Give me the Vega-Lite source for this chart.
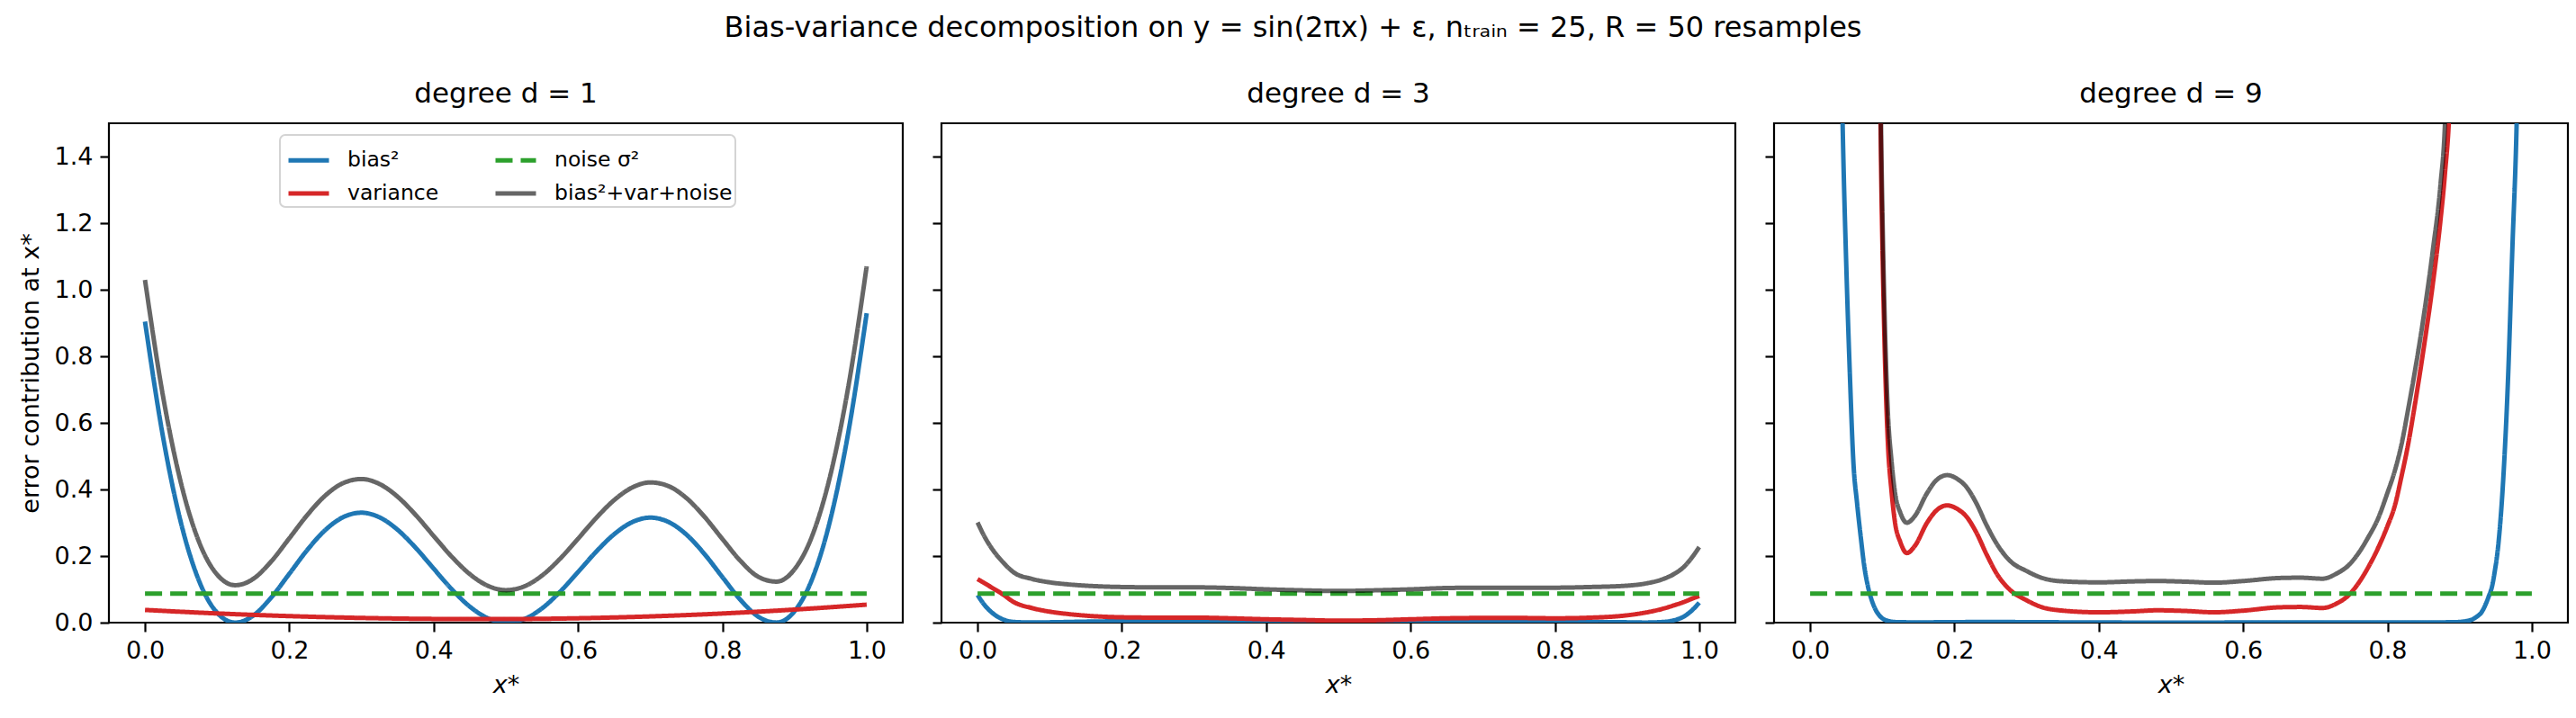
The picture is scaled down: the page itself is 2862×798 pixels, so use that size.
{
  "$schema": "https://vega.github.io/schema/vega-lite/v6.json",
  "background": "white",
  "padding": {"left": 18, "top": 14, "right": 0, "bottom": 0},
  "title": {
    "text": "Bias-variance decomposition on y = sin(2πx) + ε, nₜᵣₐᵢₙ = 25, R = 50 resamples",
    "fontSize": 32, "anchor": "middle", "offset": 40
  },
  "datasets": {
    "curves": [
      {"d":1,"s":"n","x":0,"v":0.087},{"d":1,"s":"n","x":1,"v":0.087},
      {"d":3,"s":"n","x":0,"v":0.087},{"d":3,"s":"n","x":1,"v":0.087},
      {"d":9,"s":"n","x":0,"v":0.087},{"d":9,"s":"n","x":1,"v":0.087},

      {"d":1,"s":"b","x":0,"v":0.9044},{"d":1,"s":"b","x":0.025,"v":0.5576},{"d":1,"s":"b","x":0.05,"v":0.2984},{"d":1,"s":"b","x":0.075,"v":0.1249},
      {"d":1,"s":"b","x":0.1,"v":0.0295},{"d":1,"s":"b","x":0.125,"v":0.0},{"d":1,"s":"b","x":0.15,"v":0.0211},{"d":1,"s":"b","x":0.175,"v":0.0757},
      {"d":1,"s":"b","x":0.2,"v":0.1468},{"d":1,"s":"b","x":0.225,"v":0.2186},{"d":1,"s":"b","x":0.25,"v":0.2785},{"d":1,"s":"b","x":0.275,"v":0.3173},
      {"d":1,"s":"b","x":0.3,"v":0.3302},{"d":1,"s":"b","x":0.325,"v":0.3163},{"d":1,"s":"b","x":0.35,"v":0.279},{"d":1,"s":"b","x":0.375,"v":0.2249},
      {"d":1,"s":"b","x":0.4,"v":0.1622},{"d":1,"s":"b","x":0.425,"v":0.1004},{"d":1,"s":"b","x":0.45,"v":0.0483},{"d":1,"s":"b","x":0.475,"v":0.0132},
      {"d":1,"s":"b","x":0.5,"v":0.0},{"d":1,"s":"b","x":0.525,"v":0.0104},{"d":1,"s":"b","x":0.55,"v":0.0427},{"d":1,"s":"b","x":0.575,"v":0.0924},
      {"d":1,"s":"b","x":0.6,"v":0.1519},{"d":1,"s":"b","x":0.625,"v":0.2127},{"d":1,"s":"b","x":0.65,"v":0.2654},{"d":1,"s":"b","x":0.675,"v":0.3018},
      {"d":1,"s":"b","x":0.7,"v":0.3154},{"d":1,"s":"b","x":0.725,"v":0.3028},{"d":1,"s":"b","x":0.75,"v":0.2649},{"d":1,"s":"b","x":0.775,"v":0.2067},
      {"d":1,"s":"b","x":0.8,"v":0.137},{"d":1,"s":"b","x":0.825,"v":0.0687},{"d":1,"s":"b","x":0.85,"v":0.0175},{"d":1,"s":"b","x":0.875,"v":0.0003},
      {"d":1,"s":"b","x":0.9,"v":0.0341},{"d":1,"s":"b","x":0.925,"v":0.1342},{"d":1,"s":"b","x":0.95,"v":0.3128},{"d":1,"s":"b","x":0.975,"v":0.5771},
      {"d":1,"s":"b","x":1.0,"v":0.9293},

      {"d":1,"s":"v","x":0,"v":0.0381},{"d":1,"s":"v","x":0.1,"v":0.0276},{"d":1,"s":"v","x":0.2,"v":0.0196},{"d":1,"s":"v","x":0.3,"v":0.0141},
      {"d":1,"s":"v","x":0.4,"v":0.0111},{"d":1,"s":"v","x":0.475,"v":0.0105},{"d":1,"s":"v","x":0.6,"v":0.0131},{"d":1,"s":"v","x":0.7,"v":0.0187},
      {"d":1,"s":"v","x":0.8,"v":0.0274},{"d":1,"s":"v","x":0.9,"v":0.0392},{"d":1,"s":"v","x":1.0,"v":0.054},

      {"d":1,"s":"t","x":0,"v":1.0295},{"d":1,"s":"t","x":0.025,"v":0.6799},{"d":1,"s":"t","x":0.05,"v":0.418},{"d":1,"s":"t","x":0.075,"v":0.2419},
      {"d":1,"s":"t","x":0.1,"v":0.1441},{"d":1,"s":"t","x":0.125,"v":0.1124},{"d":1,"s":"t","x":0.15,"v":0.1314},{"d":1,"s":"t","x":0.175,"v":0.1841},
      {"d":1,"s":"t","x":0.2,"v":0.2534},{"d":1,"s":"t","x":0.225,"v":0.3236},{"d":1,"s":"t","x":0.25,"v":0.3821},{"d":1,"s":"t","x":0.275,"v":0.4196},
      {"d":1,"s":"t","x":0.3,"v":0.4313},{"d":1,"s":"t","x":0.325,"v":0.4164},{"d":1,"s":"t","x":0.35,"v":0.3783},{"d":1,"s":"t","x":0.375,"v":0.3235},
      {"d":1,"s":"t","x":0.4,"v":0.2603},{"d":1,"s":"t","x":0.425,"v":0.1982},{"d":1,"s":"t","x":0.45,"v":0.1458},{"d":1,"s":"t","x":0.475,"v":0.1107},
      {"d":1,"s":"t","x":0.5,"v":0.0976},{"d":1,"s":"t","x":0.525,"v":0.1084},{"d":1,"s":"t","x":0.55,"v":0.1412},{"d":1,"s":"t","x":0.575,"v":0.1916},
      {"d":1,"s":"t","x":0.6,"v":0.252},{"d":1,"s":"t","x":0.625,"v":0.3139},{"d":1,"s":"t","x":0.65,"v":0.3679},{"d":1,"s":"t","x":0.675,"v":0.4058},
      {"d":1,"s":"t","x":0.7,"v":0.4211},{"d":1,"s":"t","x":0.725,"v":0.4104},{"d":1,"s":"t","x":0.75,"v":0.3746},{"d":1,"s":"t","x":0.775,"v":0.3186},
      {"d":1,"s":"t","x":0.8,"v":0.2514},{"d":1,"s":"t","x":0.825,"v":0.1857},{"d":1,"s":"t","x":0.85,"v":0.1374},{"d":1,"s":"t","x":0.875,"v":0.1232},
      {"d":1,"s":"t","x":0.9,"v":0.1603},{"d":1,"s":"t","x":0.925,"v":0.2638},{"d":1,"s":"t","x":0.95,"v":0.446},{"d":1,"s":"t","x":0.975,"v":0.7141},
      {"d":1,"s":"t","x":1.0,"v":1.0703},

      {"d":3,"s":"b","x":0,"v":0.083},{"d":3,"s":"b","x":0.01,"v":0.052},{"d":3,"s":"b","x":0.02,"v":0.03},{"d":3,"s":"b","x":0.035,"v":0.01},
      {"d":3,"s":"b","x":0.05,"v":0.002},{"d":3,"s":"b","x":0.075,"v":0.0005},{"d":3,"s":"b","x":0.1,"v":0.001},{"d":3,"s":"b","x":0.15,"v":0.003},
      {"d":3,"s":"b","x":0.2,"v":0.004},{"d":3,"s":"b","x":0.25,"v":0.004},{"d":3,"s":"b","x":0.3,"v":0.003},{"d":3,"s":"b","x":0.35,"v":0.002},
      {"d":3,"s":"b","x":0.4,"v":0.001},{"d":3,"s":"b","x":0.45,"v":0.0003},{"d":3,"s":"b","x":0.5,"v":0.0},{"d":3,"s":"b","x":0.55,"v":0.0003},
      {"d":3,"s":"b","x":0.6,"v":0.001},{"d":3,"s":"b","x":0.65,"v":0.002},{"d":3,"s":"b","x":0.7,"v":0.003},{"d":3,"s":"b","x":0.75,"v":0.003},
      {"d":3,"s":"b","x":0.8,"v":0.003},{"d":3,"s":"b","x":0.85,"v":0.002},{"d":3,"s":"b","x":0.9,"v":0.001},{"d":3,"s":"b","x":0.925,"v":0.0003},
      {"d":3,"s":"b","x":0.95,"v":0.002},{"d":3,"s":"b","x":0.965,"v":0.007},{"d":3,"s":"b","x":0.98,"v":0.02},{"d":3,"s":"b","x":0.99,"v":0.037},
      {"d":3,"s":"b","x":1.0,"v":0.06},

      {"d":3,"s":"v","x":0,"v":0.131},{"d":3,"s":"v","x":0.01,"v":0.118},{"d":3,"s":"v","x":0.02,"v":0.105},{"d":3,"s":"v","x":0.035,"v":0.085},
      {"d":3,"s":"v","x":0.05,"v":0.062},{"d":3,"s":"v","x":0.075,"v":0.044},{"d":3,"s":"v","x":0.1,"v":0.033},{"d":3,"s":"v","x":0.125,"v":0.026},
      {"d":3,"s":"v","x":0.15,"v":0.021},{"d":3,"s":"v","x":0.2,"v":0.016},{"d":3,"s":"v","x":0.25,"v":0.015},{"d":3,"s":"v","x":0.3,"v":0.015},
      {"d":3,"s":"v","x":0.35,"v":0.013},{"d":3,"s":"v","x":0.4,"v":0.01},{"d":3,"s":"v","x":0.45,"v":0.008},{"d":3,"s":"v","x":0.5,"v":0.006},
      {"d":3,"s":"v","x":0.55,"v":0.007},{"d":3,"s":"v","x":0.6,"v":0.01},{"d":3,"s":"v","x":0.65,"v":0.013},{"d":3,"s":"v","x":0.7,"v":0.014},
      {"d":3,"s":"v","x":0.75,"v":0.014},{"d":3,"s":"v","x":0.8,"v":0.013},{"d":3,"s":"v","x":0.85,"v":0.015},{"d":3,"s":"v","x":0.9,"v":0.022},
      {"d":3,"s":"v","x":0.925,"v":0.03},{"d":3,"s":"v","x":0.95,"v":0.042},{"d":3,"s":"v","x":0.965,"v":0.052},{"d":3,"s":"v","x":0.98,"v":0.063},
      {"d":3,"s":"v","x":0.99,"v":0.072},{"d":3,"s":"v","x":1.0,"v":0.08},

      {"d":3,"s":"t","x":0,"v":0.301},{"d":3,"s":"t","x":0.01,"v":0.257},{"d":3,"s":"t","x":0.02,"v":0.222},{"d":3,"s":"t","x":0.035,"v":0.182},
      {"d":3,"s":"t","x":0.05,"v":0.151},{"d":3,"s":"t","x":0.075,"v":0.1315},{"d":3,"s":"t","x":0.1,"v":0.121},{"d":3,"s":"t","x":0.125,"v":0.115},
      {"d":3,"s":"t","x":0.15,"v":0.111},{"d":3,"s":"t","x":0.2,"v":0.107},{"d":3,"s":"t","x":0.25,"v":0.106},{"d":3,"s":"t","x":0.3,"v":0.106},
      {"d":3,"s":"t","x":0.35,"v":0.104},{"d":3,"s":"t","x":0.4,"v":0.1},{"d":3,"s":"t","x":0.45,"v":0.097},{"d":3,"s":"t","x":0.5,"v":0.095},
      {"d":3,"s":"t","x":0.55,"v":0.097},{"d":3,"s":"t","x":0.6,"v":0.1},{"d":3,"s":"t","x":0.65,"v":0.104},{"d":3,"s":"t","x":0.7,"v":0.105},
      {"d":3,"s":"t","x":0.75,"v":0.105},{"d":3,"s":"t","x":0.8,"v":0.105},{"d":3,"s":"t","x":0.85,"v":0.107},{"d":3,"s":"t","x":0.9,"v":0.111},
      {"d":3,"s":"t","x":0.925,"v":0.1173},{"d":3,"s":"t","x":0.95,"v":0.131},{"d":3,"s":"t","x":0.965,"v":0.146},{"d":3,"s":"t","x":0.98,"v":0.17},
      {"d":3,"s":"t","x":0.99,"v":0.196},{"d":3,"s":"t","x":1.0,"v":0.227},

      {"d":9,"s":"b","x":0.035,"v":3.0},{"d":9,"s":"b","x":0.045,"v":1.5},{"d":9,"s":"b","x":0.05,"v":1.08},{"d":9,"s":"b","x":0.055,"v":0.75},
      {"d":9,"s":"b","x":0.06,"v":0.48},{"d":9,"s":"b","x":0.065,"v":0.36},{"d":9,"s":"b","x":0.07,"v":0.26},{"d":9,"s":"b","x":0.075,"v":0.17},
      {"d":9,"s":"b","x":0.08,"v":0.11},{"d":9,"s":"b","x":0.085,"v":0.07},{"d":9,"s":"b","x":0.09,"v":0.042},{"d":9,"s":"b","x":0.095,"v":0.024},
      {"d":9,"s":"b","x":0.1,"v":0.013},{"d":9,"s":"b","x":0.105,"v":0.007},{"d":9,"s":"b","x":0.11,"v":0.004},{"d":9,"s":"b","x":0.12,"v":0.0015},
      {"d":9,"s":"b","x":0.15,"v":0.0008},{"d":9,"s":"b","x":0.2,"v":0.0015},{"d":9,"s":"b","x":0.25,"v":0.002},{"d":9,"s":"b","x":0.3,"v":0.0015},
      {"d":9,"s":"b","x":0.4,"v":0.0005},{"d":9,"s":"b","x":0.5,"v":0.0002},{"d":9,"s":"b","x":0.6,"v":0.0004},{"d":9,"s":"b","x":0.7,"v":0.0006},
      {"d":9,"s":"b","x":0.8,"v":0.0004},{"d":9,"s":"b","x":0.88,"v":0.001},{"d":9,"s":"b","x":0.9,"v":0.002},{"d":9,"s":"b","x":0.91,"v":0.005},
      {"d":9,"s":"b","x":0.917,"v":0.009},{"d":9,"s":"b","x":0.925,"v":0.02},{"d":9,"s":"b","x":0.93,"v":0.03},{"d":9,"s":"b","x":0.935,"v":0.05},
      {"d":9,"s":"b","x":0.94,"v":0.077},{"d":9,"s":"b","x":0.945,"v":0.11},{"d":9,"s":"b","x":0.948,"v":0.145},{"d":9,"s":"b","x":0.954,"v":0.243},
      {"d":9,"s":"b","x":0.9606,"v":0.438},{"d":9,"s":"b","x":0.967,"v":0.73},{"d":9,"s":"b","x":0.973,"v":1.12},{"d":9,"s":"b","x":0.979,"v":1.5},
      {"d":9,"s":"b","x":0.985,"v":2.2},

      {"d":9,"s":"v","x":0.093,"v":2.9},{"d":9,"s":"v","x":0.0982,"v":1.395},{"d":9,"s":"v","x":0.1003,"v":1.119},{"d":9,"s":"v","x":0.1032,"v":0.831},
      {"d":9,"s":"v","x":0.1077,"v":0.542},{"d":9,"s":"v","x":0.1127,"v":0.397},{"d":9,"s":"v","x":0.1177,"v":0.3},{"d":9,"s":"v","x":0.125,"v":0.242},
      {"d":9,"s":"v","x":0.134,"v":0.209},{"d":9,"s":"v","x":0.145,"v":0.23},{"d":9,"s":"v","x":0.162,"v":0.3},{"d":9,"s":"v","x":0.175,"v":0.337},
      {"d":9,"s":"v","x":0.19,"v":0.352},{"d":9,"s":"v","x":0.205,"v":0.34},{"d":9,"s":"v","x":0.216,"v":0.32},{"d":9,"s":"v","x":0.23,"v":0.272},
      {"d":9,"s":"v","x":0.2447,"v":0.204},{"d":9,"s":"v","x":0.26,"v":0.142},{"d":9,"s":"v","x":0.2777,"v":0.097},{"d":9,"s":"v","x":0.3,"v":0.067},
      {"d":9,"s":"v","x":0.319,"v":0.048},{"d":9,"s":"v","x":0.35,"v":0.036},{"d":9,"s":"v","x":0.4,"v":0.031},{"d":9,"s":"v","x":0.45,"v":0.034},
      {"d":9,"s":"v","x":0.48,"v":0.037},{"d":9,"s":"v","x":0.52,"v":0.035},{"d":9,"s":"v","x":0.56,"v":0.031},{"d":9,"s":"v","x":0.6,"v":0.036},
      {"d":9,"s":"v","x":0.65,"v":0.046},{"d":9,"s":"v","x":0.68,"v":0.047},{"d":9,"s":"v","x":0.71,"v":0.044},{"d":9,"s":"v","x":0.73,"v":0.058},
      {"d":9,"s":"v","x":0.745,"v":0.08},{"d":9,"s":"v","x":0.759,"v":0.116},{"d":9,"s":"v","x":0.773,"v":0.165},{"d":9,"s":"v","x":0.787,"v":0.224},
      {"d":9,"s":"v","x":0.8,"v":0.29},{"d":9,"s":"v","x":0.81,"v":0.35},{"d":9,"s":"v","x":0.8195,"v":0.44},{"d":9,"s":"v","x":0.829,"v":0.54},
      {"d":9,"s":"v","x":0.8361,"v":0.63},{"d":9,"s":"v","x":0.8506,"v":0.83},{"d":9,"s":"v","x":0.863,"v":1.02},{"d":9,"s":"v","x":0.8735,"v":1.21},
      {"d":9,"s":"v","x":0.8797,"v":1.35},{"d":9,"s":"v","x":0.886,"v":1.55},{"d":9,"s":"v","x":0.892,"v":2.0},

      {"d":9,"s":"t","x":0.093,"v":3.0},{"d":9,"s":"t","x":0.0982,"v":1.5},{"d":9,"s":"t","x":0.1003,"v":1.218},{"d":9,"s":"t","x":0.1032,"v":0.926},
      {"d":9,"s":"t","x":0.1077,"v":0.633},{"d":9,"s":"t","x":0.1127,"v":0.487},{"d":9,"s":"t","x":0.1177,"v":0.389},{"d":9,"s":"t","x":0.125,"v":0.33},
      {"d":9,"s":"t","x":0.134,"v":0.3},{"d":9,"s":"t","x":0.145,"v":0.32},{"d":9,"s":"t","x":0.162,"v":0.389},{"d":9,"s":"t","x":0.175,"v":0.428},
      {"d":9,"s":"t","x":0.19,"v":0.443},{"d":9,"s":"t","x":0.205,"v":0.43},{"d":9,"s":"t","x":0.216,"v":0.409},{"d":9,"s":"t","x":0.23,"v":0.36},
      {"d":9,"s":"t","x":0.2447,"v":0.292},{"d":9,"s":"t","x":0.26,"v":0.232},{"d":9,"s":"t","x":0.2777,"v":0.184},{"d":9,"s":"t","x":0.3,"v":0.155},
      {"d":9,"s":"t","x":0.319,"v":0.136},{"d":9,"s":"t","x":0.35,"v":0.124},{"d":9,"s":"t","x":0.4,"v":0.121},{"d":9,"s":"t","x":0.45,"v":0.124},
      {"d":9,"s":"t","x":0.48,"v":0.125},{"d":9,"s":"t","x":0.52,"v":0.123},{"d":9,"s":"t","x":0.56,"v":0.12},{"d":9,"s":"t","x":0.6,"v":0.125},
      {"d":9,"s":"t","x":0.65,"v":0.134},{"d":9,"s":"t","x":0.68,"v":0.135},{"d":9,"s":"t","x":0.71,"v":0.132},{"d":9,"s":"t","x":0.73,"v":0.148},
      {"d":9,"s":"t","x":0.745,"v":0.17},{"d":9,"s":"t","x":0.759,"v":0.206},{"d":9,"s":"t","x":0.773,"v":0.255},{"d":9,"s":"t","x":0.787,"v":0.313},
      {"d":9,"s":"t","x":0.8,"v":0.39},{"d":9,"s":"t","x":0.81,"v":0.455},{"d":9,"s":"t","x":0.8195,"v":0.536},{"d":9,"s":"t","x":0.829,"v":0.645},
      {"d":9,"s":"t","x":0.8361,"v":0.731},{"d":9,"s":"t","x":0.8506,"v":0.926},{"d":9,"s":"t","x":0.863,"v":1.121},{"d":9,"s":"t","x":0.8735,"v":1.316},
      {"d":9,"s":"t","x":0.8797,"v":1.5},{"d":9,"s":"t","x":0.886,"v":2.0}
    ]
  },
  "spacing": 28,
  "resolve": {
    "scale": {"color": "independent", "strokeDash": "independent"},
    "legend": {"color": "independent", "strokeDash": "independent"}
  },
  "hconcat": [
    {
      "width": 882, "height": 555,
      "title": "degree d = 1",
      "data": {"name": "curves"},
      "transform": [{"filter": "datum.d == 1"}],
      "encoding": {
        "x": {"field": "x", "type": "quantitative", "title": "x*",
              "scale": {"domain": [-0.05, 1.05], "nice": false, "zero": false},
              "axis": {"values": [0, 0.2, 0.4, 0.6, 0.8, 1.0], "format": ".1f", "titleFontStyle": "italic"}},
        "y": {"field": "v", "type": "quantitative", "title": "error contribution at x*",
              "scale": {"domain": [0, 1.5], "nice": false},
              "axis": {"values": [0, 0.2, 0.4, 0.6, 0.8, 1.0, 1.2, 1.4], "format": ".1f"}},
        "color": {"field": "s", "type": "nominal",
                  "scale": {"domain": ["b", "v", "n", "t"], "range": ["#1f77b4", "#d62728", "#2ca02c", "#666666"]},
                  "legend": {"title": null, "orient": "none", "legendX": 190, "legendY": 13, "columns": 2,
                             "labelExpr": "{'b': 'bias²', 'n': 'noise σ²', 'v': 'variance', 't': 'bias²+var+noise'}[datum.label]"}},
        "strokeDash": {"field": "s", "type": "nominal",
                       "scale": {"domain": ["b", "v", "n", "t"], "range": [[1, 0], [1, 0], [19, 9], [1, 0]]},
                       "legend": {"title": null, "orient": "none", "legendX": 190, "legendY": 13, "columns": 2,
                                  "labelExpr": "{'b': 'bias²', 'n': 'noise σ²', 'v': 'variance', 't': 'bias²+var+noise'}[datum.label]"}}
      },
      "layer": [
        {"transform": [{"filter": "datum.s == 'b'"}], "mark": {"type": "line", "strokeWidth": 5, "interpolate": "monotone", "clip": true}},
        {"transform": [{"filter": "datum.s == 'v'"}], "mark": {"type": "line", "strokeWidth": 5, "interpolate": "monotone", "clip": true}},
        {"transform": [{"filter": "datum.s == 'n'"}], "mark": {"type": "line", "strokeWidth": 5, "clip": true}},
        {"transform": [{"filter": "datum.s == 't'"}], "mark": {"type": "line", "strokeWidth": 5, "interpolate": "monotone", "clip": true, "opacity": 0.6},
         "encoding": {"color": {"value": "#000000"}}}
      ]
    },
    {
      "width": 882, "height": 555,
      "title": "degree d = 3",
      "data": {"name": "curves"},
      "transform": [{"filter": "datum.d == 3"}],
      "encoding": {
        "x": {"field": "x", "type": "quantitative", "title": "x*",
              "scale": {"domain": [-0.05, 1.05], "nice": false, "zero": false},
              "axis": {"values": [0, 0.2, 0.4, 0.6, 0.8, 1.0], "format": ".1f", "titleFontStyle": "italic"}},
        "y": {"field": "v", "type": "quantitative", "title": null,
              "scale": {"domain": [0, 1.5], "nice": false},
              "axis": {"values": [0, 0.2, 0.4, 0.6, 0.8, 1.0, 1.2, 1.4], "labels": false}},
        "color": {"field": "s", "type": "nominal", "legend": null,
                  "scale": {"domain": ["b", "v", "n", "t"], "range": ["#1f77b4", "#d62728", "#2ca02c", "#666666"]}},
        "strokeDash": {"field": "s", "type": "nominal", "legend": null,
                       "scale": {"domain": ["b", "v", "n", "t"], "range": [[1, 0], [1, 0], [19, 9], [1, 0]]}}
      },
      "layer": [
        {"transform": [{"filter": "datum.s == 'b'"}], "mark": {"type": "line", "strokeWidth": 5, "interpolate": "monotone", "clip": true}},
        {"transform": [{"filter": "datum.s == 'v'"}], "mark": {"type": "line", "strokeWidth": 5, "interpolate": "monotone", "clip": true}},
        {"transform": [{"filter": "datum.s == 'n'"}], "mark": {"type": "line", "strokeWidth": 5, "clip": true}},
        {"transform": [{"filter": "datum.s == 't'"}], "mark": {"type": "line", "strokeWidth": 5, "interpolate": "monotone", "clip": true, "opacity": 0.6},
         "encoding": {"color": {"value": "#000000"}}}
      ]
    },
    {
      "width": 882, "height": 555,
      "title": "degree d = 9",
      "data": {"name": "curves"},
      "transform": [{"filter": "datum.d == 9"}],
      "encoding": {
        "x": {"field": "x", "type": "quantitative", "title": "x*",
              "scale": {"domain": [-0.05, 1.05], "nice": false, "zero": false},
              "axis": {"values": [0, 0.2, 0.4, 0.6, 0.8, 1.0], "format": ".1f", "titleFontStyle": "italic"}},
        "y": {"field": "v", "type": "quantitative", "title": null,
              "scale": {"domain": [0, 1.5], "nice": false},
              "axis": {"values": [0, 0.2, 0.4, 0.6, 0.8, 1.0, 1.2, 1.4], "labels": false}},
        "color": {"field": "s", "type": "nominal", "legend": null,
                  "scale": {"domain": ["b", "v", "n", "t"], "range": ["#1f77b4", "#d62728", "#2ca02c", "#666666"]}},
        "strokeDash": {"field": "s", "type": "nominal", "legend": null,
                       "scale": {"domain": ["b", "v", "n", "t"], "range": [[1, 0], [1, 0], [19, 9], [1, 0]]}}
      },
      "layer": [
        {"transform": [{"filter": "datum.s == 'b'"}], "mark": {"type": "line", "strokeWidth": 5, "interpolate": "monotone", "clip": true}},
        {"transform": [{"filter": "datum.s == 'v'"}], "mark": {"type": "line", "strokeWidth": 5, "interpolate": "monotone", "clip": true}},
        {"transform": [{"filter": "datum.s == 'n'"}], "mark": {"type": "line", "strokeWidth": 5, "clip": true}},
        {"transform": [{"filter": "datum.s == 't'"}], "mark": {"type": "line", "strokeWidth": 5, "interpolate": "monotone", "clip": true, "opacity": 0.6},
         "encoding": {"color": {"value": "#000000"}}}
      ]
    }
  ],
  "config": {
    "font": "DejaVu Sans",
    "view": {"stroke": "black", "strokeWidth": 2.2},
    "title": {"font": "DejaVu Sans", "fontSize": 31, "fontWeight": "normal", "color": "black", "offset": 16},
    "axis": {
      "domain": false, "grid": false,
      "tickColor": "black", "tickWidth": 2.2, "tickSize": 10,
      "labelFont": "DejaVu Sans", "labelFontSize": 27, "labelColor": "black", "labelPadding": 8,
      "titleFont": "DejaVu Sans", "titleFontSize": 27, "titleFontWeight": "normal", "titleColor": "black", "titlePadding": 12
    },
    "legend": {
      "symbolType": "stroke", "symbolSize": 2025, "symbolStrokeWidth": 5, "symbolOffset": 4, "symbolOpacity": 1,
      "labelFont": "DejaVu Sans", "labelFontSize": 23.5, "labelColor": "black", "labelOffset": 18, "labelLimit": 400,
      "rowPadding": -6, "columnPadding": 52, "padding": 3,
      "strokeColor": "#d4d4d4", "strokeWidth": 2, "cornerRadius": 6, "fillColor": "white"
    }
  }
}
